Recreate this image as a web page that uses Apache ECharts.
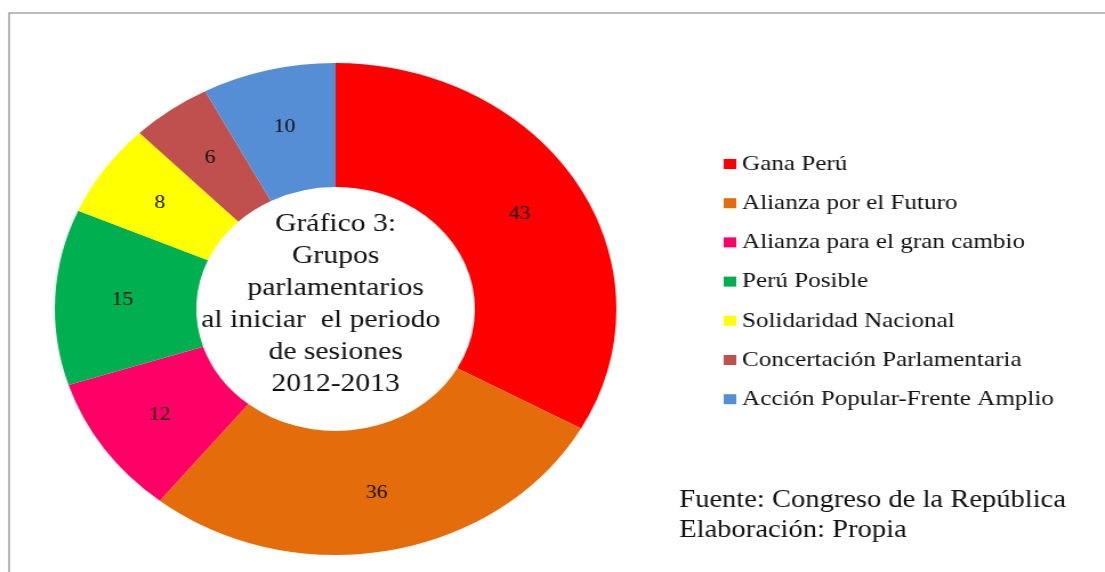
<!DOCTYPE html>
<html>
<head>
<meta charset="utf-8">
<script src="https://cdn.jsdelivr.net/npm/echarts@6/dist/echarts.min.js"></script>
<style>
html,body{margin:0;padding:0;background:#fff;overflow:hidden;}
#wrap{width:1105px;height:572px;overflow:hidden;position:relative;}
#chart{width:968px;height:572px;transform:scaleX(1.1415);transform-origin:0 0;}
</style>
</head>
<body>
<div id="wrap"><div id="chart"></div></div>
<script>
const categories = ['Gana Perú','Alianza por el Futuro','Alianza para el gran cambio','Perú Posible','Solidaridad Nacional','Concertación Parlamentaria','Acción Popular-Frente Amplio'];
const values = [43, 36, 12, 15, 8, 6, 10];
const colors = ['#FF0000','#E46C0A','#FF0066','#00B050','#FFFF00','#C0504D','#558ED5'];
const centerText = 'Gráfico 3:\nGrupos\nparlamentarios\nal iniciar  el periodo    \nde sesiones\n2012-2013';
const footerText = 'Fuente: Congreso de la República\nElaboración: Propia';

const font = '"Liberation Serif", "Times New Roman", serif';
const chart = echarts.init(document.getElementById('chart'), null, {renderer:'canvas'});
chart.setOption({
  animation:false,
  backgroundColor:'#fff',
  color: colors,
  legend:{
    orient:'vertical',
    left:629, top:148,
    itemWidth:11, itemHeight:10, itemGap:17.2,
    icon:'rect',
    textStyle:{fontFamily:font, fontSize:22, color:'#111', lineHeight:22},
    data: categories
  },
  graphic:[
    {type:'rect', silent:true, z:-1, shape:{x:8, y:13, width:2000, height:1000},
     style:{fill:'none', stroke:'#A6A6A6', lineWidth:1.6}},
    {type:'text', x:294, y:304, silent:true,
     style:{text:centerText, fontFamily:font, fontSize:26, lineHeight:32, fill:'#111', align:'center', verticalAlign:'middle'}},
    {type:'text', x:595, y:515, silent:true,
     style:{text:footerText, fontFamily:font, fontSize:25, lineHeight:30, fill:'#111', align:'left', verticalAlign:'middle'}}
  ],
  series:[{
    type:'pie',
    center:[294, 309],
    radius:[122, 246],
    startAngle:90,
    clockwise:true,
    avoidLabelOverlap:false,
    label:{show:true, position:'inside', formatter:'{c}', fontFamily:font, fontSize:19, color:'#111'},
    labelLine:{show:false},
    itemStyle:{borderWidth:0},
    emphasis:{disabled:true},
    data: categories.map((c,i)=>({name:c, value:values[i]}))
  }]
});
</script>
</body>
</html>
